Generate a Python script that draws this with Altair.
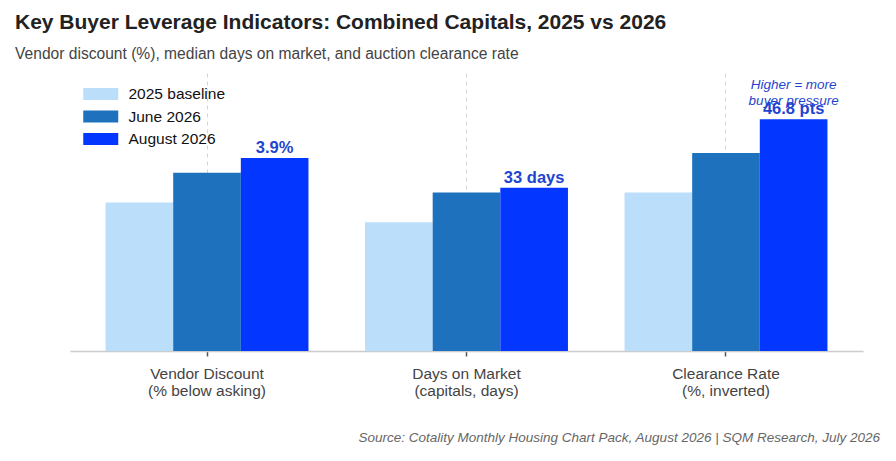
import altair as alt
import pandas as pd

# ---- data ----
indicators = ["Vendor Discount|(% below asking)",
              "Days on Market|(capitals, days)",
              "Clearance Rate|(%, inverted)"]
series = ["2025 baseline", "June 2026", "August 2026"]
# plotted bar heights on a shared index scale (vendor discount shown x10)
vendor_discount_x10 = [30, 36, 39]
days_on_market = [26, 32, 33]
clearance_inverted = [32, 40, 46.8]
august_labels = ["3.9%", "33 days", "46.8 pts"]
colors = ["#BBDEFB", "#1E72BD", "#0336FF"]
annotation_text = "Higher = more\nbuyer pressure"
source_text = "Source: Cotality Monthly Housing Chart Pack, August 2026 | SQM Research, July 2026"

values_by_indicator = [vendor_discount_x10, days_on_market, clearance_inverted]
rows = []
for ind, vals, lab in zip(indicators, values_by_indicator, august_labels):
    for s, v in zip(series, vals):
        rows.append({"indicator": ind, "series": s, "value": v,
                     "label": lab if s == "August 2026" else ""})
df = pd.DataFrame(rows)

ann_df = pd.DataFrame([{"indicator": indicators[2], "series": series[2],
                        "value": clearance_inverted[2], "note": annotation_text}])
src_df = pd.DataFrame([{"t": source_text}])

FONT = "Liberation Sans"
LABEL_BLUE = "#1F45CF"

x_enc = alt.X("indicator:N", sort=indicators,
              scale=alt.Scale(paddingInner=0.218, paddingOuter=0.137),
              axis=alt.Axis(title=None, labelAngle=0, labelExpr="split(datum.label, '|')",
                            labelFontSize=15.5, labelColor="#444444", labelFont=FONT,
                            labelPadding=10, labelLineHeight=17.5,
                            domainColor="#CCCCCC", domainWidth=1.5,
                            tickColor="#555555", tickSize=5, tickWidth=1.5,
                            grid=True, gridColor="#D5D5D5", gridDash=[4, 4], gridWidth=1,
                            bandPosition=0.5))
xo_enc = alt.XOffset("series:N", sort=series, scale=alt.Scale(paddingInner=0, paddingOuter=0))
y_enc = alt.Y("value:Q", scale=alt.Scale(domain=[0, 56.16], nice=False, zero=True), axis=None)

bars = alt.Chart(df).mark_bar(strokeWidth=0).encode(
    x=x_enc, xOffset=xo_enc, y=y_enc,
    color=alt.Color("series:N", sort=series,
                    scale=alt.Scale(domain=series, range=colors),
                    legend=alt.Legend(title=None, orient="none", legendX=21.75, legendY=12,
                                      symbolType="M-2,-0.68H2V0.68H-2Z", symbolSize=306.25,
                                      symbolStrokeWidth=0, symbolOpacity=1,
                                      labelFontSize=15.5, labelFont=FONT, labelColor="#111111",
                                      labelOffset=18.75, rowPadding=4.5, padding=0))
)

labels = alt.Chart(df).transform_filter("datum.label != ''").mark_text(
    fontSize=16.5, fontWeight="bold", font=FONT, color=LABEL_BLUE,
    baseline="alphabetic", dy=-5
).encode(x=x_enc, xOffset=xo_enc, y=y_enc, text="label:N")

note = alt.Chart(ann_df).mark_text(
    fontSize=13.5, fontStyle="italic", font=FONT, color=LABEL_BLUE,
    baseline="middle", lineBreak="\n", lineHeight=16, dy=-34
).encode(x=x_enc, xOffset=xo_enc, y=y_enc, text="note:N")

source = alt.Chart(src_df).mark_text(
    fontSize=13.5, fontStyle="italic", font=FONT, color="#666666",
    align="right", baseline="alphabetic"
).encode(x=alt.value(810), y=alt.value(369), text="t:N")

chart = alt.layer(bars, labels, note, source).properties(
    width=793, height=278,
    autosize=alt.AutoSizeParams(type="none"),
    padding={"left": 62, "top": 65, "right": 25, "bottom": 100},
    title=alt.TitleParams(
        text="Key Buyer Leverage Indicators: Combined Capitals, 2025 vs 2026",
        subtitle="Vendor discount (%), median days on market, and auction clearance rate",
        anchor="start", frame="group", dx=-55, offset=10,
        font=FONT, fontSize=21, fontWeight="bold", color="#222222",
        subtitleFont=FONT, subtitleFontSize=15.6, subtitleColor="#444444", subtitlePadding=14),
).configure_view(stroke=None)

chart.save("out.html", embed_options={"renderer": "svg", "actions": False})
